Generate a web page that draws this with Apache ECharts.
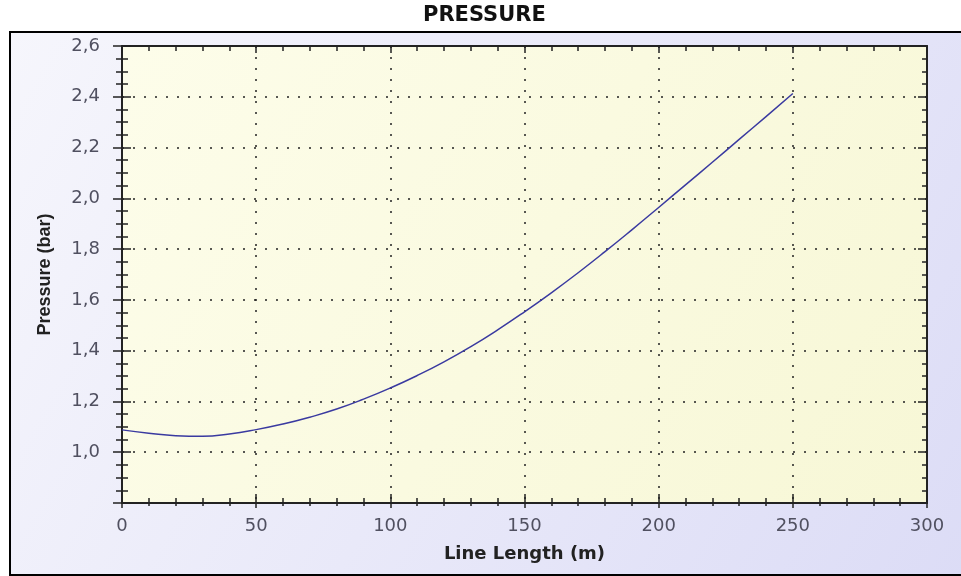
<!DOCTYPE html>
<html>
<head>
<meta charset="utf-8">
<title>PRESSURE</title>
<script src="https://cdn.jsdelivr.net/npm/echarts@6/dist/echarts.min.js"></script>
<style>
  html, body { margin: 0; padding: 0; background: #ffffff; }
  #chart { width: 961px; height: 576px; }
</style>
</head>
<body>
<div id="chart"></div>
<script>
// line length (m) and pressure (bar)
const lengths = [0, 10, 20, 30, 40, 50, 60, 70, 80, 90, 100, 110, 120, 130, 140, 150, 160, 170, 180, 190, 200, 210, 220, 230, 240, 250];
const pressures = [1.088, 1.075, 1.065, 1.063, 1.072, 1.089, 1.111, 1.138, 1.170, 1.209, 1.253, 1.302, 1.356, 1.416, 1.482, 1.553, 1.628, 1.707, 1.790, 1.876, 1.964, 2.053, 2.142, 2.232, 2.322, 2.413];

const xMin = 0, xMax = 300, xStep = 50;
const yMin = 0.8, yMax = 2.6, yStep = 0.2;

const chartInstance = echarts.init(document.getElementById('chart'));

const dotted = { color: '#222', width: 1.5, type: [2, 9] };
const tickStyle = { color: '#222', width: 1.5 };

// y labels use decimal comma, lowest one (0,8) is not shown
function yLabel(v) {
  if (Math.abs(v - yMin) < 1e-6) return '';
  return v.toFixed(1).replace('.', ',');
}

const seriesData = lengths.map((x, i) => [x, pressures[i]]);

const option = {
  animation: false,
  title: {
    text: 'PRESSURE',
    left: 423,
    top: 5,
    padding: 0,
    textStyle: { fontFamily: 'DejaVu Sans', fontWeight: 'bold', fontSize: 21, color: '#111' }
  },
  graphic: [
    {
      // outer framed panel
      type: 'rect',
      z: -10,
      shape: { x: 10, y: 32, width: 960, height: 543 },
      style: {
        fill: new echarts.graphic.LinearGradient(0, 0, 1, 1, [
          { offset: 0, color: '#f6f6fc' },
          { offset: 1, color: '#dcdcf6' }
        ]),
        stroke: '#000',
        lineWidth: 2
      }
    }
  ],
  grid: {
    left: 122, right: 34, top: 46, bottom: 73,
    outerBoundsMode: 'none',
    show: true,
    borderWidth: 0,
    backgroundColor: new echarts.graphic.LinearGradient(0, 0, 1, 1, [
      { offset: 0, color: '#fdfdea' },
      { offset: 1, color: '#f7f7d6' }
    ])
  },
  xAxis: [
    {
      // main bottom axis
      type: 'value', position: 'bottom', min: xMin, max: xMax, interval: xStep,
      name: 'Line Length (m)', nameLocation: 'middle', nameGap: 42,
      nameTextStyle: { fontFamily: 'DejaVu Sans', fontWeight: 'bold', fontSize: 18, color: '#222' },
      axisLine: { onZero: false, lineStyle: { color: '#222', width: 2 } },
      axisTick: { inside: true, length: 9, lineStyle: tickStyle },
      minorTick: { show: true, splitNumber: 5, length: 5, lineStyle: tickStyle },
      axisLabel: { margin: 14, fontFamily: 'DejaVu Sans', fontSize: 18, color: '#505060' },
      splitLine: { show: true, lineStyle: dotted }
    },
    {
      // top frame axis
      type: 'value', position: 'top', min: xMin, max: xMax, interval: xStep,
      axisLine: { onZero: false, lineStyle: { color: '#222', width: 2 } },
      axisTick: { inside: true, length: 7, lineStyle: tickStyle },
      minorTick: { show: true, splitNumber: 5, length: 5, lineStyle: tickStyle },
      axisLabel: { show: false },
      splitLine: { show: false }
    },
    {
      // short outward ticks under the bottom axis
      type: 'value', position: 'bottom', min: xMin, max: xMax, interval: xStep,
      axisLine: { show: false, onZero: false },
      axisTick: { inside: false, length: 5, lineStyle: tickStyle },
      minorTick: { show: true, splitNumber: 5, length: 3, lineStyle: tickStyle },
      axisLabel: { show: false },
      splitLine: { show: false }
    }
  ],
  yAxis: [
    {
      // main left axis
      type: 'value', position: 'left', min: yMin, max: yMax, interval: yStep,
      name: 'Pressure (bar)', nameLocation: 'middle', nameGap: 68, nameRotate: 90,
      nameTextStyle: { fontFamily: 'Liberation Sans', fontWeight: 'bold', fontSize: 18, color: '#222' },
      axisLine: { onZero: false, lineStyle: { color: '#222', width: 2 } },
      axisTick: { inside: true, length: 9, lineStyle: tickStyle },
      minorTick: { show: true, splitNumber: 4, length: 6, lineStyle: tickStyle },
      axisLabel: { margin: 22, fontFamily: 'DejaVu Sans', fontSize: 18, color: '#505060', formatter: yLabel },
      splitLine: { show: true, lineStyle: dotted }
    },
    {
      // right frame axis
      type: 'value', position: 'right', min: yMin, max: yMax, interval: yStep,
      axisLine: { onZero: false, lineStyle: { color: '#222', width: 2 } },
      axisTick: { inside: true, length: 9, lineStyle: tickStyle },
      minorTick: { show: true, splitNumber: 4, length: 5, lineStyle: tickStyle },
      axisLabel: { show: false },
      splitLine: { show: false }
    },
    {
      // outward ticks on the left axis
      type: 'value', position: 'left', min: yMin, max: yMax, interval: yStep,
      axisLine: { show: false, onZero: false },
      axisTick: { inside: false, length: 9, lineStyle: tickStyle },
      minorTick: { show: true, splitNumber: 4, length: 6, lineStyle: tickStyle },
      axisLabel: { show: false },
      splitLine: { show: false }
    }
  ],
  series: [
    {
      type: 'line',
      xAxisIndex: 0,
      yAxisIndex: 0,
      data: seriesData,
      smooth: true,
      showSymbol: false,
      lineStyle: { color: '#3a3aa0', width: 1.5 }
    }
  ]
};

chartInstance.setOption(option);
</script>
</body>
</html>
